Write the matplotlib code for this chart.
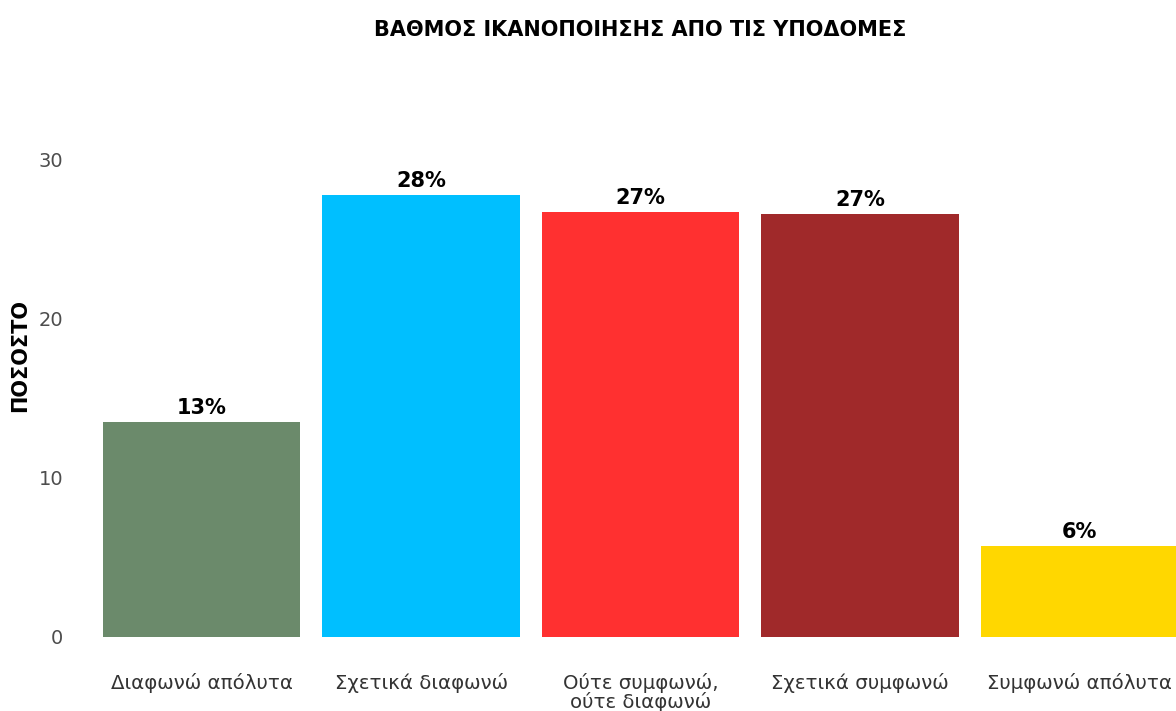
import matplotlib
matplotlib.use("Agg")
import matplotlib.pyplot as plt

plt.rcParams['font.family'] = ['DejaVu Sans']

categories = ["Διαφωνώ απόλυτα", "Σχετικά διαφωνώ", "Ούτε συμφωνώ,\nούτε διαφωνώ",
              "Σχετικά συμφωνώ", "Συμφωνώ απόλυτα"]
values = [13.5, 27.8, 26.7, 26.6, 5.7]
labels = ["13%", "28%", "27%", "27%", "6%"]
colors = ["#6B8A6B", "#00BFFF", "#FF3030", "#A0292A", "#FFD700"]
yticks = [0, 10, 20, 30]

W, H = 1176, 711
fig = plt.figure(figsize=(W / 100, H / 100), dpi=100)
ax = fig.add_axes([70 / W, (H - 637) / H, (W - 70) / W, 501 / H])

x = range(len(categories))
bars = ax.bar(x, values, width=0.9, color=colors)
for b, lab in zip(bars, labels):
    ax.annotate(lab, (b.get_x() + b.get_width() / 2, b.get_height()),
                xytext=(0, 3), textcoords="offset points", ha="center", va="bottom",
                fontsize=15, fontweight="bold", color="black")

ax.set_xlim(-0.6, (W - 201.5) / 219.5)
ax.set_ylim(0, 31.5)
ax.set_xticks(list(x))
ax.set_xticklabels(categories, fontsize=14.2, color="#333333", linespacing=0.95)
ax.set_yticks(yticks)
ax.set_yticklabels([str(t) for t in yticks], fontsize=14, color="#4d4d4d")
ax.tick_params(axis="x", length=0, pad=26)
ax.tick_params(axis="y", length=0, pad=5)
for s in ax.spines.values():
    s.set_visible(False)

fig.text(640 / W, 1 - 30 / H, "ΒΑΘΜΟΣ ΙΚΑΝΟΠΟΙΗΣΗΣ ΑΠΟ ΤΙΣ ΥΠΟΔΟΜΕΣ", ha="center", va="center",
         fontsize=15, fontweight="bold")
fig.text(20 / W, 1 - 355 / H, "ΠΟΣΟΣΤΟ", ha="center", va="center", rotation=90,
         fontsize=15, fontweight="bold")

fig.savefig("out.png", dpi=100)
